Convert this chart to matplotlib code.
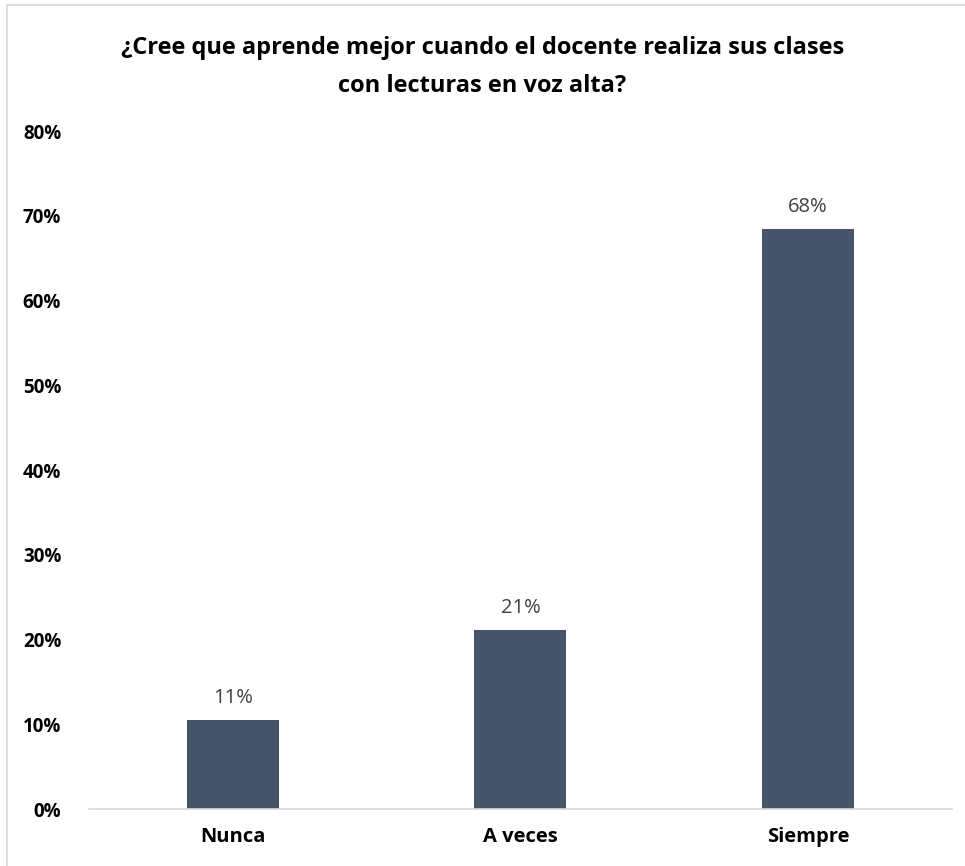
import matplotlib.pyplot as plt
from matplotlib.lines import Line2D
from matplotlib.ticker import PercentFormatter

categorias = ['Nunca', 'A veces', 'Siempre']
valores = [0.105, 0.211, 0.684]
etiquetas = ['11%', '21%', '68%']
titulo = '¿Cree que aprende mejor cuando el docente realiza sus clases\ncon lecturas en voz alta?'

plt.rcParams['font.family'] = ['Open Sans', 'DejaVu Sans']

fig = plt.figure(figsize=(9.65, 8.66), dpi=100)
ax = fig.add_axes([0.0922, 0.0658, 0.8943, 0.7829])

x = range(len(categorias))
barras = ax.bar(x, valores, width=0.32, color='#44546A')
for b, t in zip(barras, etiquetas):
    ax.annotate(t, (b.get_x() + b.get_width() / 2, b.get_height()),
                xytext=(0, 9), textcoords='offset points',
                ha='center', va='bottom', fontsize=14.5, color='#404040')

ax.set_xlim(-0.5, 2.5)
ax.set_ylim(0, 0.8)
ax.set_yticks([i / 10 for i in range(9)])
ax.yaxis.set_major_formatter(PercentFormatter(1.0, decimals=0))
ax.set_xticks(list(x))
ax.set_xticklabels(categorias)
for lab in ax.get_yticklabels():
    lab.set_fontweight('bold')
    lab.set_fontsize(13.5)
for lab in ax.get_xticklabels():
    lab.set_fontweight('bold')
    lab.set_fontsize(14.5)
ax.tick_params(axis='y', length=0, pad=20)
ax.tick_params(axis='x', length=0, pad=13)
for s in ['top', 'right', 'left']:
    ax.spines[s].set_visible(False)
ax.spines['bottom'].set_color('#D9D9D9')
ax.spines['bottom'].set_linewidth(1.2)

fig.text(0.5, 0.958, titulo, ha='center', va='top', fontsize=17,
         fontweight='bold', linespacing=1.75)

# borde del gráfico
fig.add_artist(Line2D([7 / 965, 7 / 965], [0, 1 - 5 / 866], color='#D9D9D9', lw=1.2))
fig.add_artist(Line2D([7 / 965, 1], [1 - 5 / 866, 1 - 5 / 866], color='#D9D9D9', lw=1.2))

fig.savefig('out.png', dpi=100)
